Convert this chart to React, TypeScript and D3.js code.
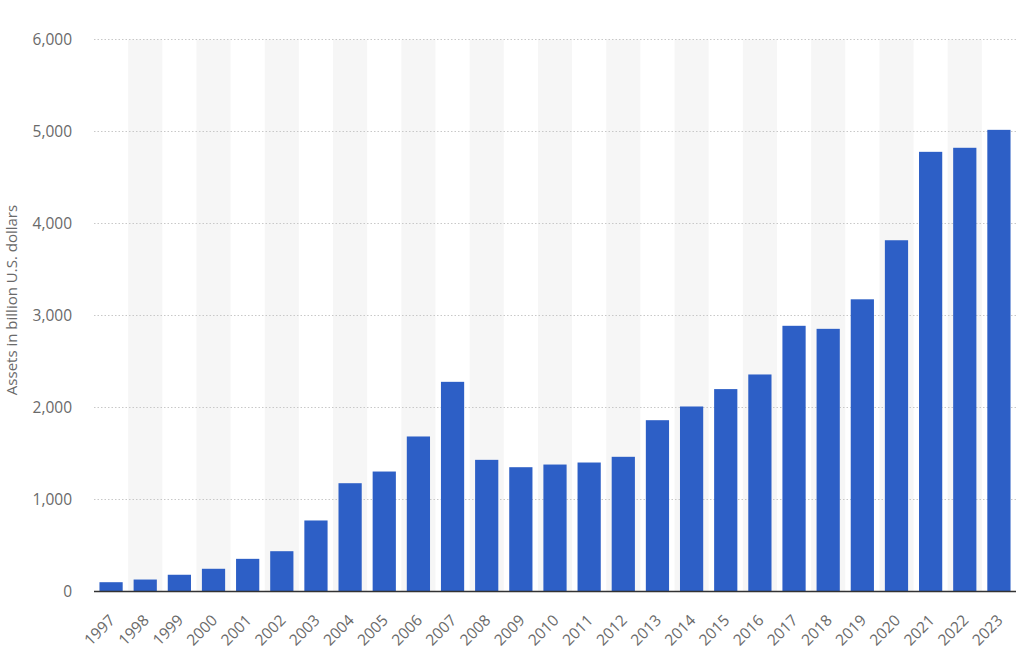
import React from "react";
import * as d3 from "d3";

const years: string[] = [
  "1997","1998","1999","2000","2001","2002","2003","2004","2005","2006","2007","2008","2009",
  "2010","2011","2012","2013","2014","2015","2016","2017","2018","2019","2020","2021","2022","2023",
];
const assets: number[] = [
  101, 130, 182, 247, 355, 438, 772, 1177, 1304, 1685, 2279, 1431, 1351,
  1380, 1402, 1464, 1862, 2011, 2200, 2359, 2888, 2855, 3176, 3818, 4779, 4823, 5018,
];
const yTicks: number[] = [0, 1000, 2000, 3000, 4000, 5000, 6000];
const yTitle = "Assets in billion U.S. dollars";

const W = 1024;
const H = 665;
const left = 94;
const right = 1016;
const top = 39.5;
const bottom = 591.5;

export default function App() {
  const x = d3.scaleBand<string>().domain(years).range([left, right]).paddingInner(0.32).paddingOuter(0.16);
  const y = d3.scaleLinear().domain([0, 6000]).range([bottom, top]);
  const step = x.step();
  const bw = x.bandwidth();
  const fmt = d3.format(",");
  const font = "'Open Sans', sans-serif";

  return (
    <svg width={W} height={H} style={{ position: "absolute", left: 0, top: 0, background: "#fff" }}>
      {years.map((yr, i) =>
        i % 2 === 1 ? (
          <rect
            key={"b" + yr}
            x={(x(yr) as number) + bw / 2 - step / 2}
            y={top}
            width={step}
            height={bottom - top}
            fill="#f6f6f6"
          />
        ) : null
      )}
      {yTicks.filter((t) => t > 0).map((t) => (
        <line
          key={"g" + t}
          x1={left}
          x2={right}
          y1={y(t)}
          y2={y(t)}
          stroke="#c8c8c8"
          strokeWidth={1}
          strokeDasharray="1.5,2"
        />
      ))}
      {yTicks.map((t) => (
        <text
          key={"t" + t}
          x={72}
          y={y(t)}
          dy="0.35em"
          textAnchor="end"
          fontFamily={font}
          fontSize={15.5}
          fill="#6a6a6a"
        >
          {fmt(t)}
        </text>
      ))}
      <text
        transform={`translate(12, 300) rotate(-90)`}
        textAnchor="middle"
        dy="0.35em"
        fontFamily={font}
        fontSize={15}
        fill="#6a6a6a"
      >
        {yTitle}
      </text>
      {years.map((yr, i) => (
        <rect
          key={"r" + yr}
          x={x(yr) as number}
          y={y(assets[i])}
          width={bw}
          height={bottom - y(assets[i])}
          fill="#2d5fc6"
        />
      ))}
      <line x1={left} x2={right} y1={bottom} y2={bottom} stroke="#333" strokeWidth={1.5} />
      {years.map((yr) => (
        <text
          key={"x" + yr}
          transform={`translate(${(x(yr) as number) + bw / 2 + 1}, ${bottom + 26}) rotate(-45)`}
          textAnchor="end"
          dy="0.35em"
          fontFamily={font}
          fontSize={15.5}
          fill="#6a6a6a"
        >
          {yr}
        </text>
      ))}
    </svg>
  );
}
